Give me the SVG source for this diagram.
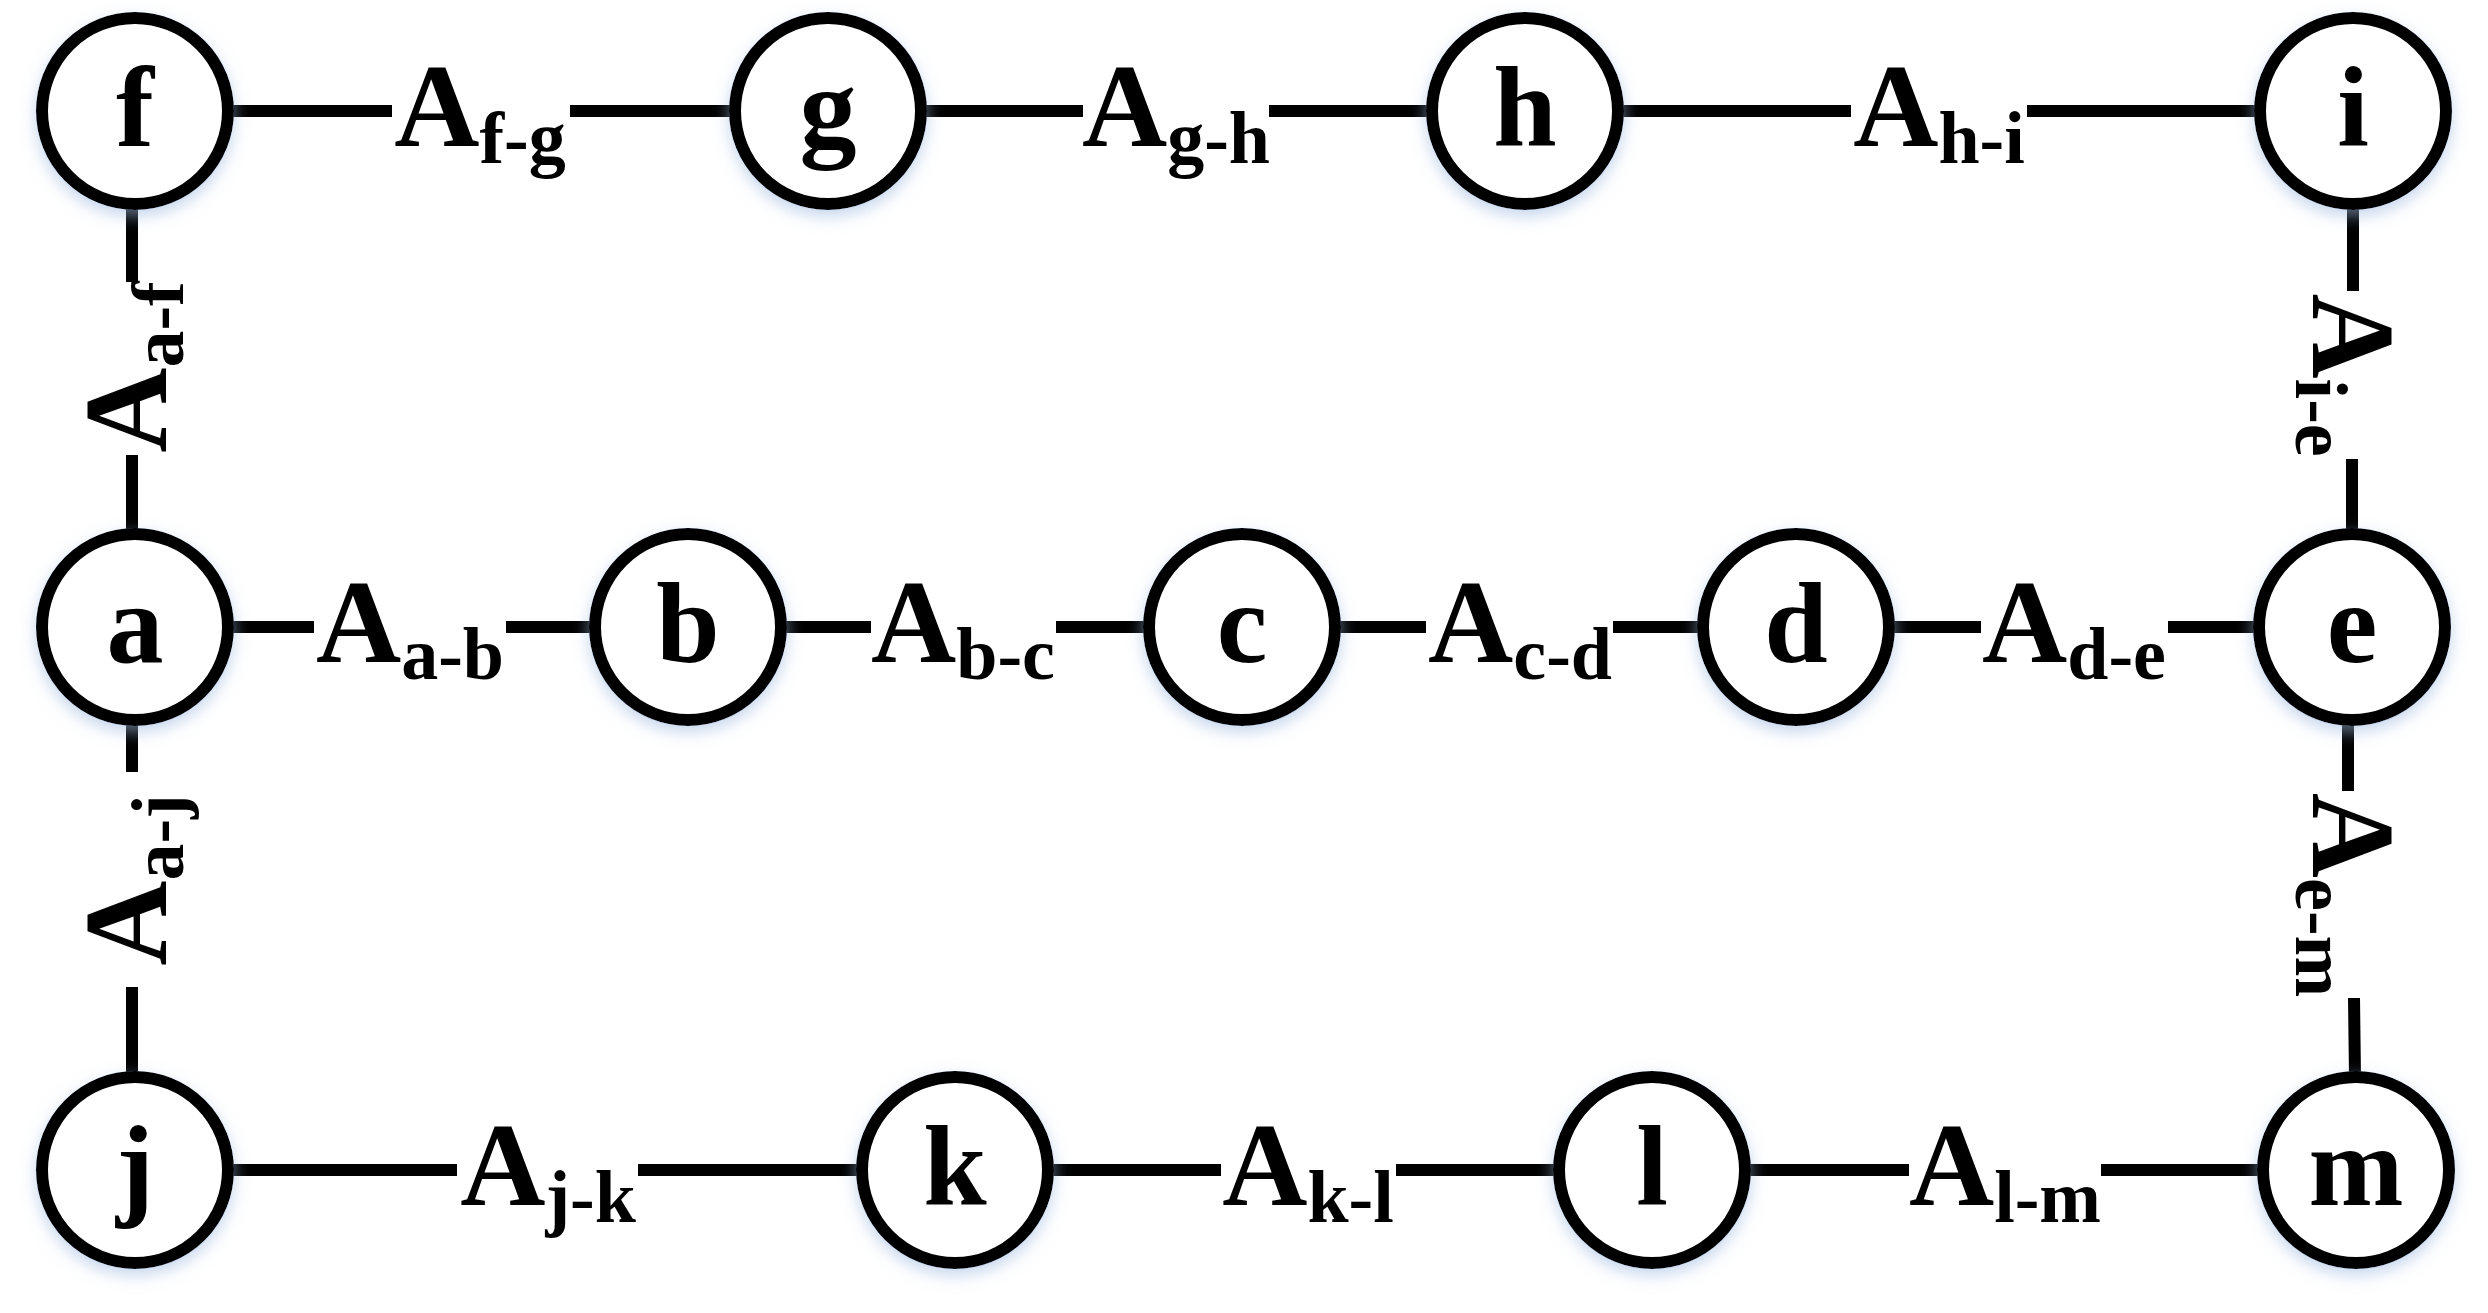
<svg xmlns="http://www.w3.org/2000/svg" width="2488" height="1313" viewBox="0 0 2488 1313">
<style>
.n{fill:#fff;stroke:#000;stroke-width:12;filter:url(#sh)}
.t{font-family:"Liberation Serif",serif;font-weight:bold;font-size:114px;text-anchor:middle}
.l{font-family:"Liberation Serif",serif;font-weight:bold;font-size:118px;text-anchor:middle}
.s{font-size:74px}
#c line{stroke:#000;stroke-width:12}
</style>
<defs><filter id="sh" x="-30%" y="-30%" width="160%" height="160%"><feDropShadow dx="0" dy="6" stdDeviation="8" flood-color="#9db9e0" flood-opacity="0.6"/></filter></defs>
<g id="c">
<line x1="228" y1="111" x2="392" y2="111"/><line x1="570" y1="111" x2="735" y2="111"/>
<line x1="921" y1="111" x2="1083" y2="111"/><line x1="1269" y1="111" x2="1432" y2="111"/>
<line x1="1618" y1="111" x2="1851" y2="111"/><line x1="2027" y1="111" x2="2260" y2="111"/>
<line x1="228" y1="627" x2="314" y2="627"/><line x1="506" y1="627" x2="595" y2="627"/>
<line x1="781" y1="627" x2="871" y2="627"/><line x1="1056" y1="627" x2="1149" y2="627"/>
<line x1="1335" y1="627" x2="1426" y2="627"/><line x1="1613" y1="627" x2="1703" y2="627"/>
<line x1="1889" y1="627" x2="1981" y2="627"/><line x1="2168" y1="627" x2="2259" y2="627"/>
<line x1="228" y1="1170" x2="457" y2="1170"/><line x1="638" y1="1170" x2="862" y2="1170"/>
<line x1="1048" y1="1170" x2="1221" y2="1170"/><line x1="1396" y1="1170" x2="1559" y2="1170"/>
<line x1="1745" y1="1170" x2="1909" y2="1170"/><line x1="2101" y1="1170" x2="2263" y2="1170"/>
<line x1="132" y1="204" x2="132" y2="282"/><line x1="132" y1="455" x2="132" y2="534"/>
<line x1="132" y1="720" x2="132" y2="772"/><line x1="132" y1="987" x2="132" y2="1077"/>
<line x1="2353" y1="204" x2="2353" y2="291"/><line x1="2352" y1="459" x2="2352" y2="534"/>
<line x1="2348" y1="720" x2="2348" y2="791"/><line x1="2354" y1="998" x2="2355" y2="1077"/>
</g>
<g id="f"><circle class="n" cx="135" cy="111" r="93"/><text class="t" x="135" y="146">f</text></g>
<g id="g"><circle class="n" cx="828" cy="111" r="93"/><text class="t" x="828" y="146">g</text></g>
<g id="h"><circle class="n" cx="1525" cy="111" r="93"/><text class="t" x="1525" y="146">h</text></g>
<g id="i"><circle class="n" cx="2353" cy="111" r="93"/><text class="t" x="2353" y="146">i</text></g>
<g id="a"><circle class="n" cx="135" cy="627" r="93"/><text class="t" x="135" y="662">a</text></g>
<g id="b"><circle class="n" cx="688" cy="627" r="93"/><text class="t" x="688" y="662">b</text></g>
<g id="c_"><circle class="n" cx="1242" cy="627" r="93"/><text class="t" x="1242" y="662">c</text></g>
<g id="d"><circle class="n" cx="1796" cy="627" r="93"/><text class="t" x="1796" y="662">d</text></g>
<g id="e"><circle class="n" cx="2352" cy="627" r="93"/><text class="t" x="2352" y="662">e</text></g>
<g id="j"><circle class="n" cx="135" cy="1170" r="93"/><text class="t" x="135" y="1205">j</text></g>
<g id="k"><circle class="n" cx="955" cy="1170" r="93"/><text class="t" x="955" y="1205">k</text></g>
<g id="l"><circle class="n" cx="1652" cy="1170" r="93"/><text class="t" x="1652" y="1205">l</text></g>
<g id="m"><circle class="n" cx="2356" cy="1170" r="93"/><text class="t" x="2356" y="1205">m</text></g>
<g id="labels">
<text class="l" x="480" y="146">A<tspan class="s" dy="17">f-g</tspan></text>
<text class="l" x="1176" y="146">A<tspan class="s" dy="17">g-h</tspan></text>
<text class="l" x="1939" y="146">A<tspan class="s" dy="17">h-i</tspan></text>
<text class="l" x="410" y="662">A<tspan class="s" dy="17">a-b</tspan></text>
<text class="l" x="963" y="662">A<tspan class="s" dy="17">b-c</tspan></text>
<text class="l" x="1520" y="662">A<tspan class="s" dy="17">c-d</tspan></text>
<text class="l" x="2074" y="662">A<tspan class="s" dy="17">d-e</tspan></text>
<text class="l" x="548" y="1205">A<tspan class="s" dy="17">j-k</tspan></text>
<text class="l" x="1308" y="1205">A<tspan class="s" dy="17">k-l</tspan></text>
<text class="l" x="2005" y="1205">A<tspan class="s" dy="17">l-m</tspan></text>
<text class="l" transform="translate(166,367) rotate(-90)">A<tspan class="s" dy="17">a-f</tspan></text>
<text class="l" transform="translate(166,880) rotate(-90)">A<tspan class="s" dy="17">a-j</tspan></text>
<text class="l" transform="translate(2313,375) rotate(90)">A<tspan class="s" dy="17">i-e</tspan></text>
<text class="l" transform="translate(2313,895) rotate(90)">A<tspan class="s" dy="17">e-m</tspan></text>
</g>
</svg>
